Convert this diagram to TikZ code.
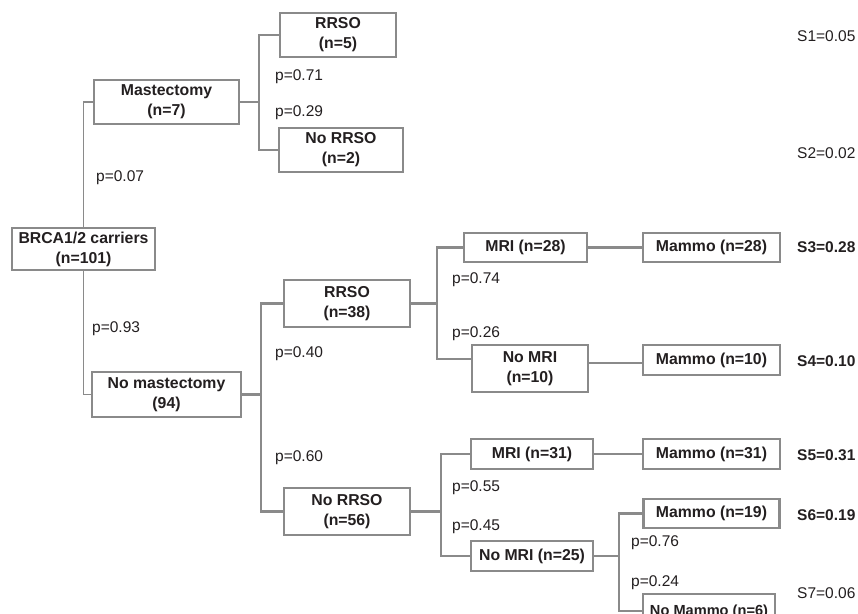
\documentclass[tikz,border=0pt]{standalone}
\usepackage{fontspec}
\setmainfont{Liberation Sans}
\definecolor{lngray}{RGB}{138,138,138}
\definecolor{txtcol}{RGB}{35,31,32}
\tikzset{
  thinbox/.style={draw=lngray, line width=1.3pt, fill=white, text=txtcol,
    font=\fontsize{15.8}{20}\selectfont\bfseries, align=center, inner sep=0pt},
  thickbox/.style={thinbox, line width=2.8pt},
  thinln/.style={draw=lngray, line width=1.3pt},
  thickln/.style={draw=lngray, line width=2.8pt},
  plab/.style={anchor=west, text=txtcol, inner sep=0pt, font=\fontsize{15.5}{19}\selectfont},
  slab/.style={plab, font=\fontsize{15.5}{19}\selectfont\bfseries},
}

\begin{document}
\begin{tikzpicture}[x=1pt, y=-1pt]
        \useasboundingbox (0,0) rectangle (858,613);
        \clip (0,0) rectangle (858,613);
        % boxes
        \node[thinbox, minimum width=116, minimum height=44] (rrso5) at (338,35) {RRSO\\(n=5)};
        \node[thinbox, minimum width=145, minimum height=44] (mast) at (166.5,102) {Mastectomy\\(n=7)};
        \node[thinbox, minimum width=124, minimum height=44] (norrso2) at (341,150) {No RRSO\\(n=2)};
        \node[thinbox, minimum width=143, minimum height=42] (brca) at (83.5,249) {BRCA1/2 carriers\\(n=101)};
        \node[thickbox, minimum width=149, minimum height=45] (nomast) at (166.5,394.5) {No mastectomy\\(94)};
        \node[thickbox, minimum width=126, minimum height=47] (rrso38) at (347,303.5) {RRSO\\(n=38)};
        \node[thickbox, minimum width=126, minimum height=47] (norrso56) at (347,511.5) {No RRSO\\(n=56)};
        \node[thickbox, minimum width=123, minimum height=29] (mri28) at (525.5,247.5) {MRI (n=28)};
        \node[thickbox, minimum width=137, minimum height=29] (mammo28) at (711.5,247.5) {Mammo (n=28)};
        \node[thickbox, minimum width=116, minimum height=47] (nomri10) at (530,368.5) {No MRI\\(n=10)};
        \node[thickbox, minimum width=137, minimum height=30] (mammo10) at (711.5,360) {Mammo (n=10)};
        \node[thickbox, minimum width=122, minimum height=30] (mri31) at (532,454) {MRI (n=31)};
        \node[thickbox, minimum width=137, minimum height=30] (mammo31) at (711.5,454) {Mammo (n=31)};
        \node[thickbox, minimum width=136, minimum height=29] (mammo19) at (711.5,513.5) {Mammo (n=19)};
        \node[thickbox, minimum width=122, minimum height=30] (nomri25) at (532,556) {No MRI (n=25)};
        \node[thinbox, minimum width=132, minimum height=36, font=\fontsize{14.6}{18}\selectfont\bfseries] (nomammo6) at (709,612) {No Mammo (n=6)};
        % branch points
        \coordinate (jmast) at (259,102);
        \coordinate (jnomast) at (261,394.5);
        \coordinate (jrrso) at (437,303.5);
        \coordinate (jnorrso) at (441,511.5);
        \coordinate (jnomri) at (619,556);
        % connectors
        \draw[thinln] (brca.north) |- (mast.west);
        \draw[thinln] (brca.south) |- (nomast.west);
        \draw[thinln] (mast.east) -- (jmast) |- (rrso5.west);
        \draw[thinln] (jmast) |- (norrso2.west);
        \draw[thickln] (nomast.east) -- (jnomast) |- (rrso38.west);
        \draw[thickln] (jnomast) |- (norrso56.west);
        \draw[thickln] (rrso38.east) -- (jrrso) |- (mri28.west);
        \draw[thickln] (jrrso) |- ([yshift=9.5pt]nomri10.west);
        \draw[thickln] (mri28) -- (mammo28);
        \draw[thickln] ([yshift=5.5pt]nomri10.east) -- ([yshift=-3pt]mammo10.west);
        \draw[thickln] (norrso56.east) -- (jnorrso) |- (mri31.west);
        \draw[thickln] (jnorrso) |- (nomri25.west);
        \draw[thickln] (mri31) -- (mammo31);
        \draw[thickln] (nomri25.east) -- (jnomri) |- (mammo19.west);
        \draw[thinln] (jnomri) |- ([yshift=1pt]nomammo6.west);
        % probabilities
        \node[plab] (p071) at (275,77) {p=0.71};
        \node[plab] (p029) at (275,113) {p=0.29};
        \node[plab] (p007) at (96,178) {p=0.07};
        \node[plab] (p093) at (92,329) {p=0.93};
        \node[plab] (p040) at (275,354) {p=0.40};
        \node[plab] (p060) at (275,458) {p=0.60};
        \node[plab] (p074) at (452,280) {p=0.74};
        \node[plab] (p026) at (452,334) {p=0.26};
        \node[plab] (p055) at (452,488) {p=0.55};
        \node[plab] (p045) at (452,527) {p=0.45};
        \node[plab] (p076) at (631,543) {p=0.76};
        \node[plab] (p024) at (631,583) {p=0.24};
        % scenario values
        \node[plab] (s1) at (797,36) {S1=0.05};
        \node[plab] (s2) at (797,153) {S2=0.02};
        \node[slab] (s3) at (797,247) {S3=0.28};
        \node[slab] (s4) at (797,361) {S4=0.10};
        \node[slab] (s5) at (797,455) {S5=0.31};
        \node[slab] (s6) at (797,515) {S6=0.19};
        \node[plab] (s7) at (797,593) {S7=0.06};
\end{tikzpicture}
\end{document}
